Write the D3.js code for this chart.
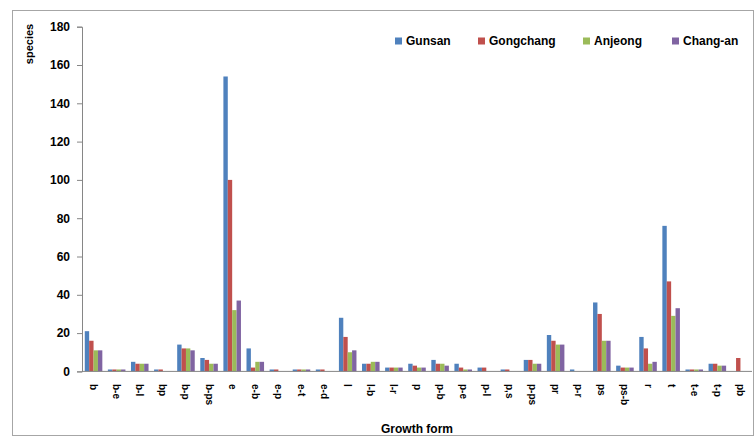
<!DOCTYPE html>
<html>
<head>
<meta charset="utf-8">
<script src="https://cdn.jsdelivr.net/npm/d3@7"></script>
<style>
    body { margin: 0; background: #fff; }
    text { font-family: "Liberation Sans", Arial, sans-serif; font-weight: bold; }
</style>
</head>
<body>
<div id="chart-view"></div>
<script>
// growth form categories (x axis)
var categories = ["b", "b-e", "b-l", "bp", "b-p", "b-ps", "e", "e-b", "e-p", "e-t", "e-d",
    "l", "l-b", "l-r", "p", "p-b", "p-e", "p-l", "p,s", "p-ps", "pr", "p-r", "ps", "ps-b",
    "r", "t", "t-e", "t-p", "pb"];

// number of species per site
var gunsan    = [21, 1, 5, 1, 14, 7, 154, 12, 1, 1, 1, 28, 4, 2, 4, 6, 4, 2, 1, 6, 19, 1, 36, 3, 18, 76, 1, 4, 0];
var gongchang = [16, 1, 4, 1, 12, 6, 100, 2, 1, 1, 1, 18, 4, 2, 3, 4, 2, 2, 1, 6, 16, 0, 30, 2, 12, 47, 1, 4, 7];
var anjeong   = [11, 1, 4, 0, 12, 4, 32, 5, 0, 1, 0, 10, 5, 2, 2, 4, 1, 0, 0, 4, 14, 0, 16, 2, 4, 29, 1, 3, 0];
var changan   = [11, 1, 4, 0, 11, 4, 37, 5, 0, 1, 0, 11, 5, 2, 2, 3, 1, 0, 0, 4, 14, 0, 16, 2, 5, 33, 1, 3, 0];

var seriesNames = ["Gunsan", "Gongchang", "Anjeong", "Chang-an"];
var yTicks = [0, 20, 40, 60, 80, 100, 120, 140, 160, 180];

var width = 755, height = 437;
var colors = ["#4F81BD", "#C0504D", "#9BBB59", "#8064A2"];
var seriesValues = [gunsan, gongchang, anjeong, changan];

var svg = d3.select("#chart-view")
    .append("svg")
    .attr("width", width)
    .attr("height", height);

// chart border
svg.append("rect")
    .attr("x", 12.5).attr("y", 10.5)
    .attr("width", 741).attr("height", 425)
    .attr("fill", "none")
    .attr("stroke", "#a6a6a6");

var plotLeft = 82, plotRight = 752, plotTop = 26.7, plotBottom = 371.4;

var x0 = d3.scaleBand()
    .domain(categories)
    .range([plotLeft, plotRight])
    .paddingInner(0.24)
    .paddingOuter(0.12);

var x1 = d3.scaleBand()
    .domain(d3.range(seriesNames.length))
    .range([0, x0.bandwidth()]);

var y = d3.scaleLinear()
    .domain([0, 180])
    .range([plotBottom, plotTop]);

// bars
var groups = svg.selectAll(".group")
    .data(categories)
    .enter().append("g")
    .attr("class", "group")
    .attr("transform", function(d) { return "translate(" + x0(d) + ",0)"; });

groups.selectAll("rect")
    .data(function(d, i) {
        return seriesValues.map(function(s, k) { return {k: k, v: s[i]}; });
    })
    .enter().append("rect")
    .attr("x", function(d) { return x1(d.k); })
    .attr("width", x1.bandwidth())
    .attr("y", function(d) { return y(d.v); })
    .attr("height", function(d) { return plotBottom - y(d.v); })
    .attr("fill", function(d) { return colors[d.k]; });

// y axis
var yAxis = svg.append("g")
    .attr("transform", "translate(" + plotLeft + ",0)")
    .call(d3.axisLeft(y).tickValues(yTicks).tickSize(5).tickPadding(7));
yAxis.select(".domain").attr("stroke", "#868686");
yAxis.selectAll(".tick line").attr("stroke", "#868686");
yAxis.selectAll("text")
    .style("font-size", "12px")
    .style("font-family", "'Liberation Sans', Arial, sans-serif")
    .style("font-weight", "bold")
    .attr("fill", "#000");

// x axis line
svg.append("line")
    .attr("x1", plotLeft).attr("x2", plotRight)
    .attr("y1", plotBottom).attr("y2", plotBottom)
    .attr("stroke", "#868686");

// rotated category labels
svg.selectAll(".xlabel")
    .data(categories)
    .enter().append("text")
    .attr("class", "xlabel")
    .attr("transform", function(d) {
        return "translate(" + (x0(d) + x0.bandwidth() / 2) + ",384) rotate(90)";
    })
    .attr("dy", "0.35em")
    .style("font-size", "10px")
    .text(function(d) { return d; });

// axis titles
svg.append("text")
    .attr("transform", "translate(29,44) rotate(-90)")
    .attr("text-anchor", "middle")
    .attr("dy", "0.35em")
    .style("font-size", "11px")
    .text("species");

svg.append("text")
    .attr("x", 417).attr("y", 433)
    .attr("text-anchor", "middle")
    .style("font-size", "12px")
    .text("Growth form");

// legend
var legendX = [395, 478, 583, 672];
var legend = svg.selectAll(".legend")
    .data(seriesNames)
    .enter().append("g")
    .attr("class", "legend")
    .attr("transform", function(d, i) { return "translate(" + legendX[i] + ",41)"; });

legend.append("rect")
    .attr("x", 0).attr("y", -3.5)
    .attr("width", 7).attr("height", 7)
    .attr("fill", function(d, i) { return colors[i]; });

legend.append("text")
    .attr("x", 11)
    .attr("dy", "0.35em")
    .style("font-size", "12px")
    .text(function(d) { return d; });
</script>
</body>
</html>
